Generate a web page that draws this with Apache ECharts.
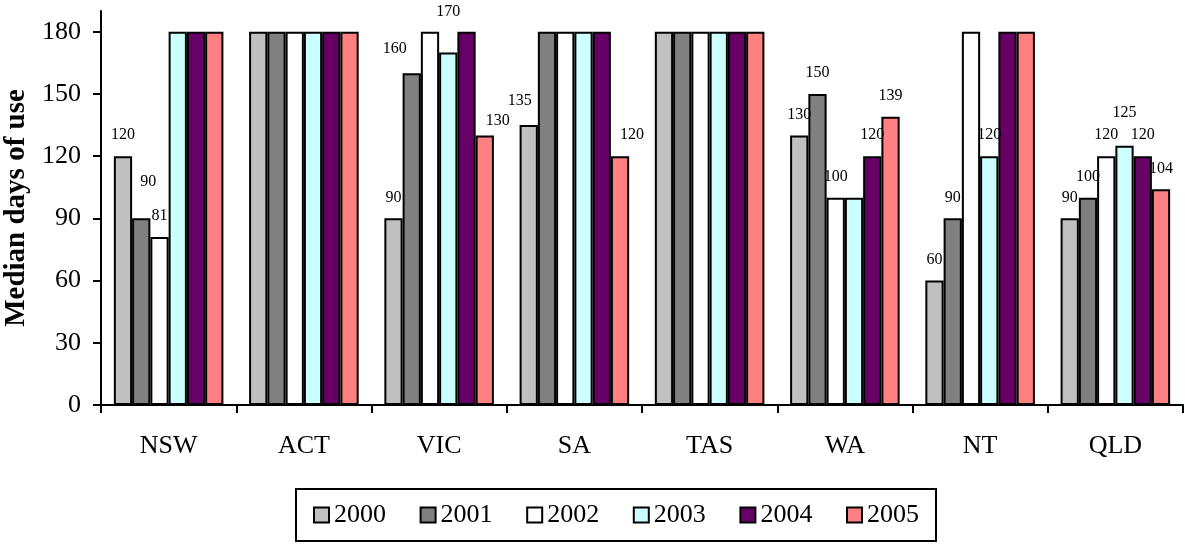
<!DOCTYPE html>
<html><head><meta charset="utf-8">
<script src="https://cdn.jsdelivr.net/npm/echarts@6/dist/echarts.min.js"></script>
<style>html,body{margin:0;padding:0;background:#fff}#c{width:1185px;height:546px}</style>
</head><body><div id="c"></div>
<script>
const categories = ['NSW','ACT','VIC','SA','TAS','WA','NT','QLD'];
const seriesNames = ['2000','2001','2002','2003','2004','2005'];
const v2000 = [120,180,90,135,180,130,60,90];
const v2001 = [90,180,160,180,180,150,90,100];
const v2002 = [81,180,180,180,180,100,180,120];
const v2003 = [180,180,170,180,180,100,120,125];
const v2004 = [180,180,180,180,180,120,180,120];
const v2005 = [180,180,130,120,180,139,180,104];
const yTicks = [0,30,60,90,120,150,180];
const axisMax = 190;

const seriesValues = [v2000,v2001,v2002,v2003,v2004,v2005];
const colors = ['#C0C0C0','#808080','#FFFFFF','#CCFFFF','#660066','#FF8080'];
const FONT = 'Liberation Serif';
// label placement tweaks (as in the original's manually moved labels)
const labelNudge = {
  '2001|NSW':[7,-16], '2001|VIC':[-17,-3], '2003|VIC':[0,-20], '2005|VIC':[13,6],
  '2000|SA':[-9,-3], '2005|SA':[12,0], '2003|QLD':[0,-12]
};
const hiddenLabels = {'2003|WA':true};

const series = seriesNames.map((name, si) => ({
  name, type: 'bar', barGap: '0%', barCategoryGap: '19%',
  itemStyle: {color: colors[si], borderColor: '#000', borderWidth: 2},
  label: {show: true, position: 'top', distance: 13, fontFamily: FONT, fontSize: 16, color: '#000',
    formatter: p => (p.value >= 180 ? '' : String(p.value))},
  data: seriesValues[si].map((v, ci) => {
    const key = name + '|' + categories[ci];
    const item = {value: v};
    if (hiddenLabels[key]) item.label = {show: false};
    else if (labelNudge[key]) item.label = {offset: labelNudge[key]};
    return item;
  })
}));

const chart = echarts.init(document.getElementById('c'));
chart.setOption({
  animation: false,
  backgroundColor: '#fff',
  textStyle: {fontFamily: FONT, color: '#000'},
  grid: {left: 101, right: 2, top: 11, bottom: 141, containLabel: false, outerBoundsMode: 'none'},
  legend: {
    data: seriesNames, left: 296, top: 489, orient: 'horizontal',
    itemWidth: 15, itemHeight: 15, itemGap: 33.6, icon: 'rect',
    itemStyle: {borderColor: '#000', borderWidth: 2},
    textStyle: {fontFamily: FONT, fontSize: 26, color: '#000'},
    padding: [13, 17, 13, 17], borderColor: '#000', borderWidth: 2, backgroundColor: '#fff'
  },
  xAxis: {
    type: 'category', data: categories,
    axisLine: {lineStyle: {color: '#000', width: 2}},
    axisTick: {show: true, length: 8, lineStyle: {color: '#000', width: 2}},
    axisLabel: {fontFamily: FONT, fontSize: 26, color: '#000', margin: 28}
  },
  yAxis: {
    type: 'value', min: 0, max: axisMax, interval: 30,
    name: 'Median days of use', nameLocation: 'middle', nameGap: 64,
    nameTextStyle: {fontFamily: FONT, fontSize: 29, fontWeight: 'bold', color: '#000'},
    axisLine: {show: true, lineStyle: {color: '#000', width: 2}},
    axisTick: {show: true, length: 8, customValues: yTicks, lineStyle: {color: '#000', width: 2}},
    axisLabel: {fontFamily: FONT, fontSize: 26, color: '#000', margin: 20, customValues: yTicks},
    splitLine: {show: false}
  },
  series
});
</script>
</body></html>
